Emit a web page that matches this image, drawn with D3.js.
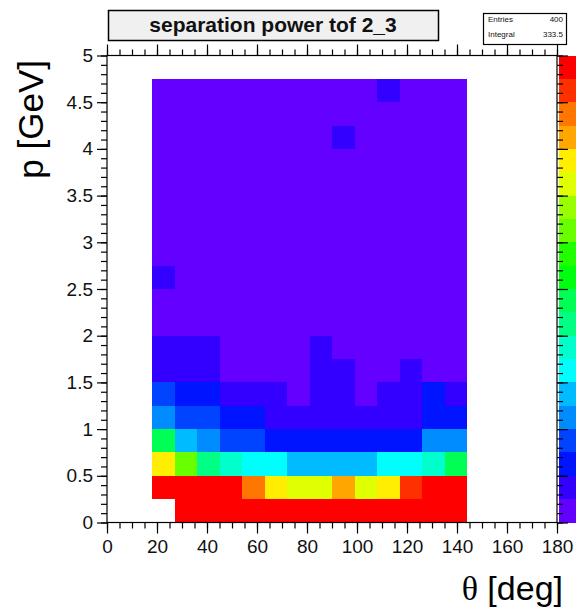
<!DOCTYPE html>
<html><head><meta charset="utf-8">
<script src="https://cdn.jsdelivr.net/npm/d3@7"></script>
<style>
body{margin:0;background:#fff}
text{font-family:"Liberation Sans",Arial,Helvetica,sans-serif}
</style>
</head><body>
<svg id="c" width="576" height="610"></svg>
<script>
// ---------------- data ----------------
const thetaBins = [18,27,36,45,54,63,72,81,90,99,108,117,126,135]; // lower edges [deg]
const thetaWidth = 9;
const pBins = [0,0.25,0.5,0.75,1,1.25,1.5,1.75,2,2.25,2.5,2.75,3,3.25,3.5,3.75,4,4.25,4.5]; // lower edges [GeV]
const pWidth = 0.25;
// separation power, rows = p bins (bottom to top), columns = theta bins
const values = [
  [null,7.8,7.8,7.8,7.8,7.8,7.8,7.8,7.8,7.8,7.8,7.8,7.8,7.8],
  [7.8,7.8,7.8,7.8,7.0,6.2,5.8,5.8,6.6,5.8,6.2,7.4,7.8,7.8],
  [6.2,5.0,3.4,3.0,2.6,2.6,2.2,2.2,2.2,2.2,2.6,2.6,3.0,3.8],
  [3.8,2.2,1.8,1.4,1.4,1.0,1.0,1.0,1.0,1.0,1.0,1.0,1.8,1.8],
  [1.8,1.4,1.4,1.0,1.0,0.6,0.6,0.6,0.6,0.6,0.6,0.6,1.0,1.0],
  [1.4,1.0,1.0,0.6,0.6,0.6,0.2,0.6,0.6,0.2,0.6,0.6,1.0,0.6],
  [0.6,0.6,0.6,0.2,0.2,0.2,0.2,0.6,0.6,0.2,0.2,0.6,0.2,0.2],
  [0.6,0.6,0.6,0.2,0.2,0.2,0.2,0.6,0.2,0.2,0.2,0.2,0.2,0.2],
  [0.2,0.2,0.2,0.2,0.2,0.2,0.2,0.2,0.2,0.2,0.2,0.2,0.2,0.2],
  [0.2,0.2,0.2,0.2,0.2,0.2,0.2,0.2,0.2,0.2,0.2,0.2,0.2,0.2],
  [0.6,0.2,0.2,0.2,0.2,0.2,0.2,0.2,0.2,0.2,0.2,0.2,0.2,0.2],
  [0.2,0.2,0.2,0.2,0.2,0.2,0.2,0.2,0.2,0.2,0.2,0.2,0.2,0.2],
  [0.2,0.2,0.2,0.2,0.2,0.2,0.2,0.2,0.2,0.2,0.2,0.2,0.2,0.2],
  [0.2,0.2,0.2,0.2,0.2,0.2,0.2,0.2,0.2,0.2,0.2,0.2,0.2,0.2],
  [0.2,0.2,0.2,0.2,0.2,0.2,0.2,0.2,0.2,0.2,0.2,0.2,0.2,0.2],
  [0.2,0.2,0.2,0.2,0.2,0.2,0.2,0.2,0.2,0.2,0.2,0.2,0.2,0.2],
  [0.2,0.2,0.2,0.2,0.2,0.2,0.2,0.2,0.6,0.2,0.2,0.2,0.2,0.2],
  [0.2,0.2,0.2,0.2,0.2,0.2,0.2,0.2,0.2,0.2,0.2,0.2,0.2,0.2],
  [0.2,0.2,0.2,0.2,0.2,0.2,0.2,0.2,0.2,0.2,0.6,0.2,0.2,0.2]
];
const xTickValues = [0,20,40,60,80,100,120,140,160,180];
const yTickValues = [0,0.5,1,1.5,2,2.5,3,3.5,4,4.5,5];
const yTickLabels = ["0","0.5","1","1.5","2","2.5","3","3.5","4","4.5","5"];
const zRange = [0, 8];
const paletteColors = ["#6300FF","#3300FF","#0014FF","#0044FF","#008BFF","#00BBFF","#00FFFC","#00FFCC","#00FF85","#00FF55",
                       "#00FF0E","#22FF00","#69FF00","#99FF00","#E0FF00","#FFEE00","#FFA700","#FF7700","#FF3000","#FF0000"];
const titleText = "separation power tof 2_3";
const statsRows = [["Entries","400"],["Integral","333.5"]];
const xTitle = "[deg]", xTitleSymbol = "θ";
const yTitle = "p [GeV]";

// ---------------- drawing ----------------
const svg = d3.select("#c");
const L = 107, R = 557, T = 55.5, B = 522.5;
const x = d3.scaleLinear().domain([0,180]).range([L,R]);
const y = d3.scaleLinear().domain([0,5]).range([B,T]);
const color = d3.scaleQuantize().domain(zRange).range(paletteColors);
const zy = d3.scaleLinear().domain(zRange).range([B,T]);

// cells
const cells = [];
values.forEach((row,i)=>row.forEach((v,j)=>{ if(v!=null) cells.push({p:pBins[i], t:thetaBins[j], v}); }));
svg.append("g").selectAll("rect").data(cells).join("rect")
  .attr("x", d=>x(d.t)).attr("y", d=>y(d.p+pWidth))
  .attr("width", d=>x(d.t+thetaWidth)-x(d.t)).attr("height", d=>y(d.p)-y(d.p+pWidth))
  .attr("fill", d=>color(d.v)).attr("shape-rendering","crispEdges");

// palette strip
svg.append("g").selectAll("rect").data(paletteColors).join("rect")
  .attr("x", 559).attr("width", 40)
  .attr("y", c=>zy(color.invertExtent(c)[1]))
  .attr("height", c=>zy(color.invertExtent(c)[0])-zy(color.invertExtent(c)[1]))
  .attr("fill", c=>c).attr("shape-rendering","crispEdges");

// frame
svg.append("rect").attr("x",L).attr("y",T).attr("width",R-L).attr("height",B-T)
  .attr("fill","none").attr("stroke","#000").attr("stroke-width",1.2);

function styleAxis(g){
  g.select(".domain").remove();
  g.selectAll("line").attr("stroke","#000").attr("stroke-width",1.2);
  g.selectAll("text").attr("font-size",19).attr("fill","#111").attr("font-family","Liberation Sans, Arial, sans-serif");
}
const minorX = d3.range(0,181,5), minorY = d3.range(0,5.01,0.1).map(v=>+v.toFixed(2));
// bottom
svg.append("g").attr("transform",`translate(0,${B})`).call(d3.axisBottom(x).tickValues(minorX).tickSize(6).tickFormat("")).call(styleAxis);
svg.append("g").attr("transform",`translate(0,${B})`).call(d3.axisBottom(x).tickValues(xTickValues).tickSizeInner(11).tickSizeOuter(0).tickPadding(6)).call(styleAxis);
// top
svg.append("g").attr("transform",`translate(0,${T})`).call(d3.axisTop(x).tickValues(minorX).tickSize(6).tickFormat("")).call(styleAxis);
svg.append("g").attr("transform",`translate(0,${T})`).call(d3.axisTop(x).tickValues(xTickValues).tickSize(11).tickFormat("")).call(styleAxis);
// left
svg.append("g").attr("transform",`translate(${L},0)`).call(d3.axisLeft(y).tickValues(minorY).tickSize(6).tickFormat("")).call(styleAxis);
svg.append("g").attr("transform",`translate(${L},0)`).call(d3.axisLeft(y).tickValues(yTickValues).tickSizeInner(10).tickSizeOuter(0).tickPadding(4)
  .tickFormat((d,i)=>yTickLabels[i])).call(styleAxis);
// right
svg.append("g").attr("transform",`translate(${R},0)`).call(d3.axisRight(y).tickValues(minorY).tickSize(6).tickFormat("")).call(styleAxis);
svg.append("g").attr("transform",`translate(${R},0)`).call(d3.axisRight(y).tickValues(yTickValues).tickSize(11).tickFormat("")).call(styleAxis);

// axis titles
const xt = svg.append("text").attr("x",563).attr("y",600).attr("text-anchor","end").attr("font-size",34).attr("fill","#000");
xt.append("tspan").attr("font-family","Liberation Serif, Times New Roman, serif").text(xTitleSymbol);
xt.append("tspan").text(" "+xTitle);
svg.append("text").attr("transform","translate(43,60) rotate(-90)").attr("text-anchor","end")
  .attr("font-size",35).attr("fill","#000").text(yTitle);

// title box
svg.append("rect").attr("x",108.5).attr("y",10.5).attr("width",330).attr("height",30)
  .attr("fill","#f0f0f0").attr("stroke","#000").attr("stroke-width",1.5);
svg.append("text").attr("x",273).attr("y",32).attr("text-anchor","middle")
  .attr("font-size",21).attr("font-weight","bold").attr("fill","#111").text(titleText);

// stats box
svg.append("rect").attr("x",483.5).attr("y",13.5).attr("width",83).attr("height",31)
  .attr("fill","#fff").attr("stroke","#000").attr("stroke-width",1.2);
statsRows.forEach((r,i)=>{
  svg.append("text").attr("x",488).attr("y",22+i*15).attr("font-size",8).attr("fill","#111").text(r[0]);
  svg.append("text").attr("x",563).attr("y",22+i*15).attr("text-anchor","end").attr("font-size",8).attr("fill","#111").text(r[1]);
});
</script>
</body></html>
